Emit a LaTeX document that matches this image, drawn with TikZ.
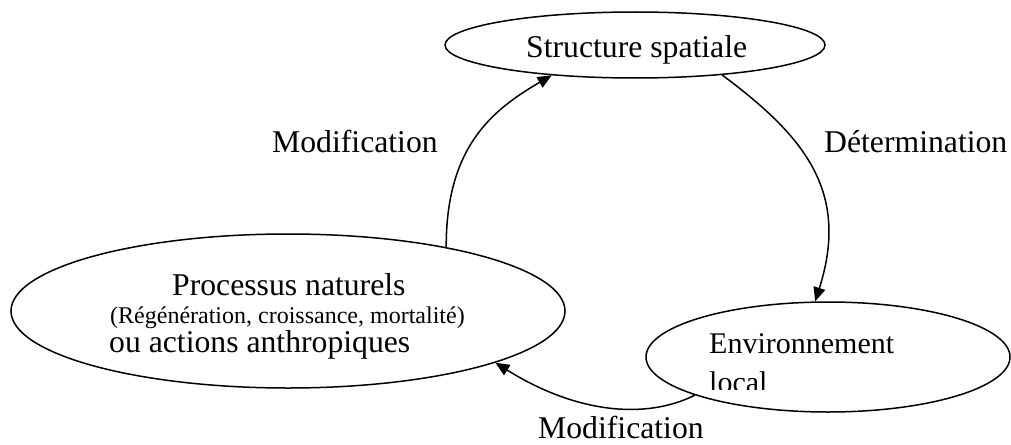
\documentclass[tikz,border=0pt]{standalone}
\usepackage{fontspec}
\setmainfont{Liberation Serif}
\usetikzlibrary{shapes.geometric,arrows.meta}
\tikzset{
  bubble/.style={draw, ellipse, line width=1.5pt, inner sep=0pt},
  lbl/.style={anchor=base west, inner sep=0pt, font=\fontsize{31.7}{38}\selectfont},
  small/.style={anchor=base west, inner sep=0pt, font=\fontsize{24}{29}\selectfont},
  conn/.style={line width=1.5pt, -{Triangle[length=14pt,width=12pt]}}
}
\begin{document}
\begin{tikzpicture}[x=1pt,y=-1pt]
\useasboundingbox (0,0) rectangle (1011,444);
% ellipses
\node[bubble, minimum width=380pt, minimum height=66pt] (top) at (635,45) {};
\node[bubble, minimum width=554pt, minimum height=154pt] (left) at (288,311) {};
\node[bubble, minimum width=364pt, minimum height=110pt] (right) at (828,357) {};
% texts
\node[lbl] (ttop) at (526,58) {Structure spatiale};
\node[lbl] (tl1) at (172,295) {Processus naturels};
\node[small] (tl2) at (110,323) {(Régénération, croissance, mortalité)};
\node[lbl] (tl3) at (109,352) {ou actions anthropiques};
\node[lbl, font=\fontsize{30}{36}\selectfont] (tr1) at (709,353) {Environnement};
\begin{scope}
  \clip (700,360) rectangle (800,389);
  \node[lbl, font=\fontsize{30}{36}\selectfont] (tr2) at (709,392) {local};
\end{scope}
% labels
\node[lbl] (m1) at (272,152) {Modification};
\node[lbl] (d1) at (824,152) {Détermination};
\node[lbl] (m2) at (538,438) {Modification};
% connectors
\draw[conn] (left.22.3) .. controls +(0,-100) and +(-60,35) .. (top.200.6);
\draw[conn] (top.341.8) .. controls +(82,61) and +(35,-110) .. (right.103.1);
\draw[conn] (right.196.7) .. controls +(-50,25) and +(80,50) .. (left.346.35);
\end{tikzpicture}
\end{document}
